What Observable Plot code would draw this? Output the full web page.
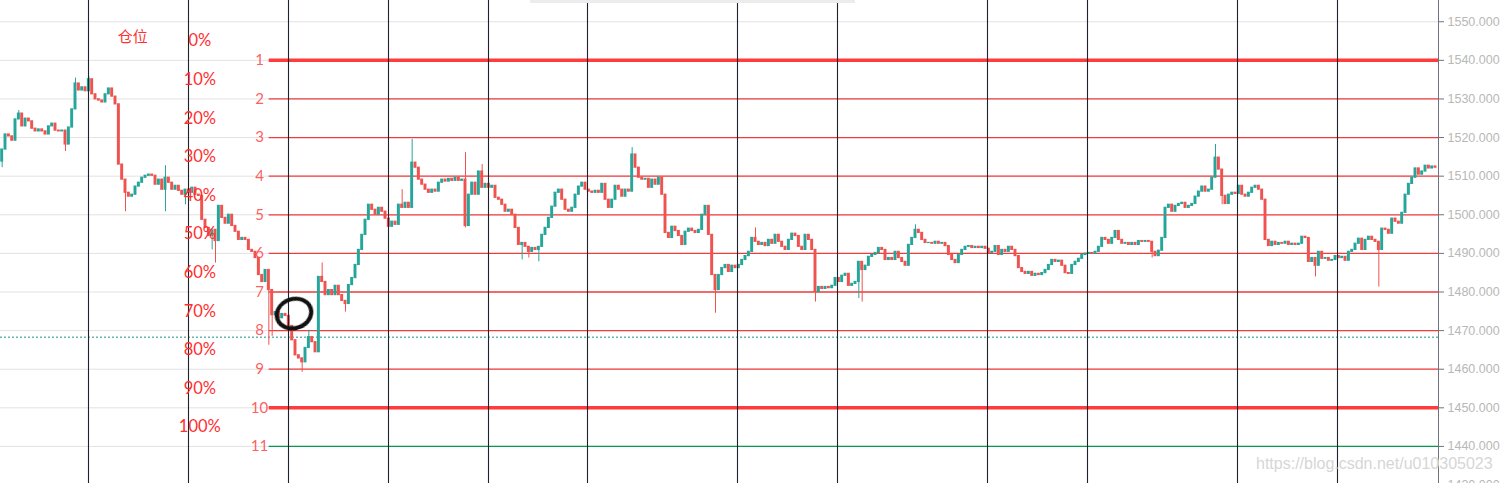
<!DOCTYPE html>
<html><head><meta charset="utf-8">
<script src="https://cdn.jsdelivr.net/npm/d3@7"></script>
<script src="https://cdn.jsdelivr.net/npm/@observablehq/plot@0.6"></script>
<style>
html,body{margin:0;padding:0;background:#fff;overflow:hidden;width:1500px;height:483px}
#wrap{position:relative;width:1500px;height:483px}
#wrap svg{position:absolute;left:0;top:0}
#wm{position:absolute;left:1256px;top:455px;font:16px "Liberation Sans",Arial,sans-serif;color:#d6d6d6;text-shadow:0 0 1px #fff;white-space:nowrap}
#tip{position:absolute;left:530px;top:0;width:325px;height:3px;background:#ececec}
</style></head><body><div id="wrap"><div id="tip"></div><div id="wm">https://blog.csdn.net/u010305023</div></div>
<script>
// ---- data ----
const firstOpen = 1513.8;
const closes = [
1516.9,1520.8,1520.3,1519.2,1524.7,1526.2,1522.9,1524.9,1524.2,1522.3,
1521.6,1522.1,1521.6,1520.8,1522.9,1523.6,1521.8,1521.6,1521.8,1518.2,
1522.6,1527.3,1534.0,1532.2,1533.0,1532.0,1535.1,1531.2,1529.9,1529.6,
1529.1,1531.2,1532.7,1530.6,1528.6,1513.0,1509.1,1505.7,1504.7,1505.2,
1507.3,1508.3,1509.6,1510.1,1510.4,1510.1,1507.8,1509.1,1506.5,1509.6,
1508.3,1506.5,1507.5,1506.2,1505.2,1506.5,1505.7,1507.0,1505.2,1504.9,
1498.7,1496.6,1494.5,1496.1,1493.2,1502.3,1499.2,1497.7,1500.0,1497.1,
1495.6,1493.5,1494.0,1493.5,1490.9,1490.4,1488.8,1484.4,1482.6,1485.7,
1480.5,1474.0,1474.8,1473.2,1474.3,1473.8,1471.2,1467.5,1463.6,1462.8,
1461.8,1465.5,1468.3,1467.0,1464.4,1483.9,1482.6,1479.2,1480.5,1479.2,
1481.6,1479.2,1477.7,1476.9,1481.8,1483.6,1487.0,1490.9,1494.8,1498.7,
1502.6,1501.3,1500.0,1501.8,1500.8,1499.0,1496.9,1498.2,1497.4,1502.6,
1501.8,1503.1,1501.8,1513.5,1512.2,1509.1,1507.8,1506.5,1505.7,1506.5,
1506.0,1508.3,1509.1,1508.6,1509.3,1508.8,1509.6,1508.8,1509.1,1497.1,
1505.2,1508.3,1505.2,1511.2,1507.0,1508.0,1507.0,1507.5,1504.4,1503.9,
1502.6,1500.8,1501.3,1500.0,1496.6,1492.2,1492.7,1491.7,1490.4,1491.4,
1490.9,1491.7,1494.8,1496.6,1499.2,1502.1,1505.7,1506.5,1503.9,1501.3,
1500.8,1501.8,1505.2,1507.3,1508.3,1506.5,1506.0,1505.7,1506.2,1505.7,
1508.0,1503.9,1501.8,1503.9,1507.5,1506.5,1504.7,1506.5,1506.0,1515.6,
1512.2,1509.6,1509.1,1509.3,1507.0,1509.1,1507.8,1509.6,1505.2,1495.3,
1494.0,1496.9,1495.8,1494.5,1492.2,1495.6,1496.4,1495.8,1495.3,1496.1,
1500.0,1502.3,1494.8,1484.4,1480.5,1484.4,1486.2,1487.0,1485.2,1486.8,
1486.2,1487.0,1488.3,1489.3,1490.4,1494.0,1493.0,1492.2,1492.7,1491.9,
1493.5,1492.5,1494.8,1493.0,1491.7,1490.9,1493.5,1495.1,1494.5,1491.7,
1490.9,1494.8,1493.5,1490.9,1480.0,1481.3,1480.8,1481.3,1481.0,1481.6,
1483.6,1482.6,1484.2,1484.7,1481.6,1482.1,1482.6,1487.8,1485.7,1486.8,
1489.1,1489.6,1490.1,1491.4,1490.9,1488.3,1488.8,1488.3,1490.4,1488.8,
1487.8,1486.8,1492.2,1494.0,1496.1,1495.3,1493.5,1492.7,1492.7,1492.5,
1493.0,1492.5,1492.7,1491.9,1489.6,1488.3,1487.5,1489.6,1490.9,1491.7,
1491.9,1491.4,1491.7,1491.4,1491.7,1491.2,1490.1,1490.4,1491.9,1489.6,
1490.9,1490.4,1491.7,1490.9,1489.3,1486.2,1485.2,1484.7,1485.2,1484.2,
1484.7,1484.4,1484.9,1485.7,1487.0,1488.3,1487.8,1488.1,1486.8,1484.9,
1484.7,1487.0,1487.8,1488.6,1489.6,1489.9,1490.1,1489.9,1490.4,1491.7,
1494.0,1493.5,1492.5,1494.0,1495.8,1493.5,1492.5,1492.7,1492.2,1492.7,
1492.2,1493.2,1493.0,1493.2,1493.0,1490.4,1489.3,1490.7,1494.0,1501.8,
1502.6,1500.8,1502.3,1502.8,1503.1,1501.8,1502.3,1502.8,1504.7,1506.0,
1507.3,1506.0,1506.5,1509.6,1514.8,1511.7,1504.9,1502.8,1505.2,1505.7,
1505.4,1507.5,1505.2,1504.7,1505.7,1507.0,1507.5,1506.5,1503.9,1493.5,
1491.9,1493.0,1492.2,1492.7,1492.5,1493.0,1492.2,1492.5,1492.2,1492.5,
1494.3,1494.0,1487.8,1488.8,1486.8,1490.4,1488.6,1488.8,1488.1,1488.3,
1489.3,1488.8,1489.1,1488.1,1490.4,1490.9,1492.5,1493.8,1490.9,1493.5,
1494.3,1493.5,1493.0,1490.9,1496.4,1496.1,1495.1,1499.0,1498.2,1497.7,
1500.5,1505.2,1508.0,1509.6,1512.0,1510.4,1511.2,1512.7,1512.0,1512.5,1512.2
];
const highBars = [5, 22, 26, 49, 92, 96, 120, 123, 139, 144, 189, 226, 274, 364];
const highVals = [1527.0, 1535.4, 1535.8, 1512.7, 1470.1, 1487.5, 1506.5, 1519.5, 1516.1, 1513.0, 1517.4, 1496.6, 1497.4, 1518.2];
const lowBars = [0, 19, 37, 49, 55, 63, 64, 80, 81, 90, 103, 139, 156, 158, 161, 214, 244, 257, 258, 345, 366, 394, 413];
const lowVals = [1512.2, 1516.4, 1500.8, 1500.8, 1502.6, 1490.9, 1487.5, 1466.2, 1468.5, 1459.2, 1474.8, 1496.6, 1488.3, 1488.8, 1487.8, 1474.5, 1477.4, 1478.3, 1477.4, 1488.8, 1502.6, 1483.9, 1481.3];

const levelPrices = [1540, 1530, 1520, 1510, 1500, 1490, 1480, 1470, 1460, 1450, 1440];
const levelNames = ["1","2","3","4","5","6","7","8","9","10","11"];
const levelWidths = [3.5, 1.3, 1.3, 1.3, 1.3, 1.3, 1.3, 1.3, 1.3, 3.5, 1.3];
const levelColors = ["#ff3b3b","#f23c3c","#f23c3c","#f23c3c","#f23c3c","#f23c3c","#f23c3c","#f23c3c","#f23c3c","#ff3b3b","#089950"];
const positionLabels = ["0%","10%","20%","30%","40%","50%","60%","70%","80%","90%","100%"];
const positionPrices = [1545, 1535, 1525, 1515, 1505, 1495, 1485, 1475, 1465, 1455, 1445];
const gridPrices = [1440,1450,1460,1470,1480,1490,1500,1510,1520,1530,1540,1550];
const axisTicks = [1430,1440,1450,1460,1470,1480,1490,1500,1510,1520,1530,1540,1550];
const sessionBreaks = [26.4, 56.4, 86.4, 116.4, 146.4, 176.1, 221.1, 251.1, 296.1, 326.1, 371.1, 401.1];
const lastPrice = 1468.3;
const markBar = 88.2, markPrice = 1474.3;

// ---- build ----
const UP = "#26a69a", DOWN = "#ef5350";
const XMAX = 431.4;
const candles = closes.map((c, i) => {
  const o = i === 0 ? firstOpen : closes[i - 1];
  let h = Math.max(o, c), l = Math.min(o, c);
  const hi = highBars.indexOf(i); if (hi >= 0) h = Math.max(h, highVals[hi]);
  const li = lowBars.indexOf(i); if (li >= 0) l = Math.min(l, lowVals[li]);
  return {bar: i, o, c, h, l, col: c >= o ? UP : DOWN};
});
const levels = levelPrices.map((p, i) => ({p, name: levelNames[i], w: levelWidths[i], col: levelColors[i]}));
const pos = positionPrices.map((p, i) => ({p, t: positionLabels[i]}));

const chart = Plot.plot({
  width: 1500, height: 483,
  marginLeft: 0, marginRight: 62, marginTop: 0, marginBottom: 0,
  style: {fontFamily: "'Liberation Sans', Arial, sans-serif", background: "#fff"},
  x: {domain: [0, XMAX], axis: null},
  y: {domain: [1430.4, 1555.5], axis: null},
  marks: [
    Plot.ruleY(gridPrices, {stroke: "#e2e2e2", strokeWidth: 1}),
    Plot.ruleY(levels, {y: "p", x1: 80.6, x2: XMAX, stroke: "col", strokeWidth: "w"}),
    Plot.ruleY([lastPrice], {stroke: "#1f8f80", strokeWidth: 1, strokeDasharray: "2,2"}),
    Plot.ruleX(candles, {x: d => d.bar + 0.5, y1: "l", y2: "h", stroke: "col", strokeWidth: 1}),
    Plot.rect(candles, {x1: d => d.bar + 0.06, x2: d => d.bar + 0.94, y1: "o", y2: "c", fill: "col", insetTop: -0.6, insetBottom: -0.6}),
    Plot.ruleX(sessionBreaks, {stroke: "#1e222d", strokeWidth: 1.1}),
    Plot.text(levels, {x: 77.7, y: "p", text: "name", fill: "#ff4a4a", fillOpacity: 0.9, fontSize: 15, fontFamily: "Lato", textAnchor: "middle"}),
    Plot.text(pos, {x: 59.8, y: "p", text: "t", fill: "#ff2f2f", fontSize: 16.5, fontFamily: "Lato", textAnchor: "middle"}),
    Plot.text(["仓位"], {x: 39.7, y: 1546, text: d => d, fill: "#ff3030", fontSize: 15, fontFamily: "Noto Sans CJK SC", textAnchor: "middle"}),
    Plot.ruleX([XMAX], {stroke: "#6f727b", strokeWidth: 1}),
    Plot.axisY({anchor: "right", ticks: axisTicks, tickFormat: d => d.toFixed(3), tickSize: 5, tickPadding: 4, fontSize: 12.5, color: "#b8b8b8", stroke: "#6f727b"})
  ]
});

const wrap = document.getElementById("wrap");
wrap.insertBefore(chart, wrap.firstChild);
const sx = chart.scale("x"), sy = chart.scale("y");
const cx = sx.apply(markBar), cy = sy.apply(markPrice);
d3.select(chart).append("ellipse")
  .attr("cx", cx).attr("cy", cy).attr("rx", 17.5).attr("ry", 14.5)
  .attr("transform", `rotate(-18 ${cx} ${cy})`)
  .attr("fill", "none").attr("stroke", "#111").attr("stroke-width", 4.2)
  .style("filter", "blur(0.5px)");
</script>
</body></html>
